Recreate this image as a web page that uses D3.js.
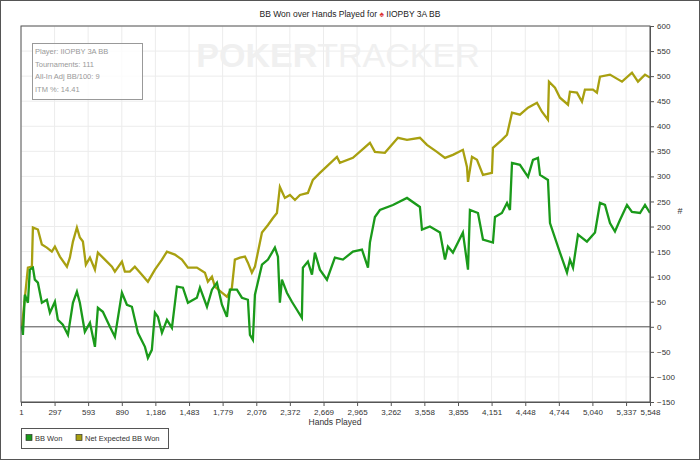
<!DOCTYPE html>
<html><head><meta charset="utf-8">
<script src="https://cdn.jsdelivr.net/npm/d3@7"></script>
<style>body{margin:0;background:#fff;font-family:"Liberation Sans",Arial,sans-serif}</style>
</head><body><svg id="c" width="700" height="460"></svg>
<script>
const bbHands=[1,9,18,35,62,79,106,123,150,185,229,256,300,326,370,415,459,494,520,564,609,653,679,723,785,829,891,935,979,1032,1094,1120,1155,1182,1208,1244,1288,1332,1376,1429,1473,1552,1579,1641,1685,1729,1773,1817,1843,1905,1949,2002,2020,2046,2064,2126,2179,2240,2267,2284,2302,2346,2390,2434,2478,2487,2531,2567,2593,2637,2699,2769,2840,2928,3008,3061,3078,3122,3166,3281,3405,3519,3537,3607,3696,3740,3766,3810,3898,3943,3960,4031,4075,4163,4181,4242,4287,4313,4331,4401,4472,4516,4560,4578,4648,4666,4754,4816,4842,4869,4913,4992,5063,5107,5151,5195,5239,5283,5345,5389,5460,5504,5548];
const bbWon=[0,0,-16,64,48,114,118,94,88,48,54,28,50,14,4,-16,48,70,48,-10,8,-40,38,30,0,-20,68,44,40,-12,-40,-62,-46,28,20,-12,14,-2,80,78,48,58,78,40,74,88,44,20,74,74,58,54,-16,-26,64,124,134,158,140,48,94,68,50,34,18,118,130,104,148,114,94,138,134,150,154,118,168,219,233,243,257,239,194,200,188,134,160,148,188,114,233,227,174,168,219,227,247,233,327,323,299,333,337,303,293,207,148,108,134,118,184,170,188,247,243,207,190,213,243,229,227,243,227];
const evHands=[1,9,62,97,106,150,185,229,273,300,344,406,432,459,494,520,547,573,609,653,679,741,803,829,891,917,961,1005,1067,1120,1182,1244,1288,1358,1420,1473,1552,1623,1649,1685,1711,1773,1817,1861,1887,1932,1976,2002,2037,2064,2126,2179,2223,2258,2284,2328,2373,2417,2461,2531,2575,2637,2787,2813,2928,3008,3078,3122,3210,3325,3405,3519,3581,3669,3740,3810,3898,3934,3943,3978,4022,4075,4154,4163,4242,4287,4331,4401,4472,4551,4595,4648,4657,4710,4754,4825,4842,4904,4948,4974,5045,5080,5107,5195,5301,5389,5442,5504,5548];
const evWon=[0,0,118,120,198,194,164,158,150,160,140,120,138,170,198,178,170,124,138,114,148,134,120,110,130,110,110,120,104,90,114,134,150,144,134,118,118,108,90,100,80,68,60,78,134,138,140,128,108,120,188,203,217,227,279,257,263,253,263,267,293,307,339,327,337,353,367,349,347,377,373,377,363,349,337,343,353,319,289,339,333,303,307,357,373,383,427,423,437,447,429,413,489,477,457,443,469,467,449,473,473,467,499,503,489,507,489,503,497];
const xTicks=[1,297,593,890,1186,1483,1779,2076,2372,2669,2965,3262,3558,3855,4151,4448,4744,5040,5337,5548];
const yTicks=[-150,-100,-50,0,50,100,150,200,250,300,350,400,450,500,550,600];
const seriesNames=["BB Won","Net Expected BB Won"];
const colors=["#1a9a1a","#a8a010"];
const infoLines=["Player: IIOPBY 3A BB","Tournaments: 111","All-In Adj BB/100: 9","ITM %: 14.41"];

const svg=d3.select("#c");
svg.append("rect").attr("x",0.5).attr("y",0.5).attr("width",699).attr("height",459).attr("fill","#fff").attr("stroke","#555");
const L=21,R=650,T=26,B=402;
const x=d3.scaleLinear().domain([1,5548]).range([L,R]);
const y=d3.scaleLinear().domain([-150,600]).range([B,T]);
const g=svg.append("g");
g.selectAll(".gx").data(xTicks).join("line").attr("x1",d=>x(d)).attr("x2",d=>x(d)).attr("y1",T).attr("y2",B).attr("stroke","#ececec");
g.selectAll(".gy").data(yTicks).join("line").attr("x1",L).attr("x2",R).attr("y1",d=>y(d)).attr("y2",d=>y(d)).attr("stroke","#ececec");
const wm=svg.append("text").attr("x",338).attr("y",67).attr("text-anchor","middle").attr("font-size",34).attr("fill","#f0f0f0");
wm.append("tspan").attr("font-weight","bold").text("POKER");
wm.append("tspan").text("TRACKER");
svg.append("line").attr("x1",L).attr("x2",R).attr("y1",y(0)).attr("y2",y(0)).attr("stroke","#555");
const line=(xs)=>d3.line().x((d,i)=>x(xs[i])).y(d=>y(d));
svg.append("path").attr("d",line(evHands)(evWon)).attr("fill","none").attr("stroke",colors[1]).attr("stroke-width",2.3);
svg.append("path").attr("d",line(bbHands)(bbWon)).attr("fill","none").attr("stroke",colors[0]).attr("stroke-width",2.3);
svg.append("rect").attr("x",L).attr("y",T).attr("width",R-L).attr("height",B-T).attr("fill","none").attr("stroke","#555");
const xa=svg.append("g").attr("transform",`translate(0,${B})`).call(d3.axisBottom(x).tickValues(xTicks).tickFormat(d3.format(",")).tickSize(4));
const ya=svg.append("g").attr("transform",`translate(${R},0)`).call(d3.axisRight(y).tickValues(yTicks).tickSize(4));
[xa,ya].forEach(a=>{a.selectAll("text").attr("font-size",8).attr("fill","#333").attr("font-family","Liberation Sans, Arial");a.select(".domain").attr("stroke","#555");a.selectAll("line").attr("stroke","#555");});
svg.append("text").attr("x",335).attr("y",425).attr("text-anchor","middle").attr("font-size",8.5).attr("fill","#333").text("Hands Played");
svg.append("text").attr("x",680).attr("y",214).attr("font-size",9).attr("fill","#333").attr("text-anchor","middle").text("#");
const t=svg.append("text").attr("x",350).attr("y",17).attr("text-anchor","middle").attr("font-size",8.5).attr("fill","#222");
t.append("tspan").text("BB Won over Hands Played for ");
t.append("tspan").attr("fill","#d33").text("♠");
t.append("tspan").text(" IIOPBY 3A BB");
svg.append("rect").attr("x",32.5).attr("y",43.5).attr("width",110).attr("height",56).attr("fill","#fff").attr("fill-opacity",0.8).attr("stroke","#999");
svg.selectAll(".info").data(infoLines).join("text").attr("x",35).attr("y",(d,i)=>54+i*12.5).attr("font-size",7.5).attr("fill","#999").text(d=>d);
svg.append("rect").attr("x",21.5).attr("y",428.5).attr("width",147).attr("height",20).attr("fill","#fff").attr("stroke","#555");
const lx=[26,76];
seriesNames.forEach((n,i)=>{
 svg.append("rect").attr("x",lx[i]).attr("y",434.5).attr("width",6).attr("height",6).attr("fill",colors[i]).attr("stroke","#333").attr("stroke-width",0.7);
 svg.append("text").attr("x",lx[i]+9).attr("y",441).attr("font-size",7.5).attr("fill","#333").text(n);
});
</script></body></html>
